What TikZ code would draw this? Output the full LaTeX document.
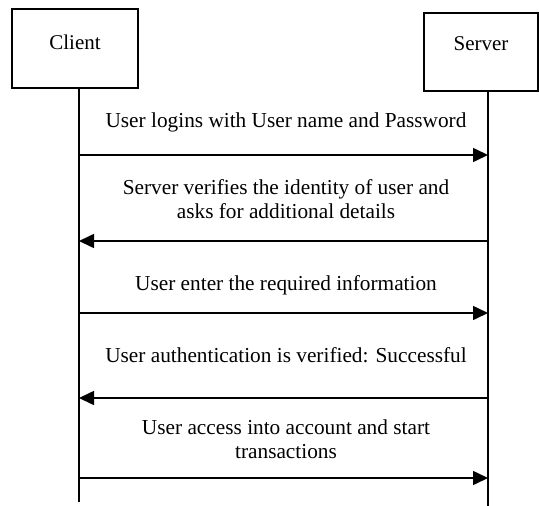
\documentclass[tikz,border=0pt]{standalone}
\usepackage{fontspec}
\setmainfont{Liberation Serif}
\usetikzlibrary{arrows.meta}
\begin{document}
\begin{tikzpicture}[x=1pt,y=-1pt,
  line width=1.6pt,
  actor/.style={draw, line width=1.6pt, inner sep=0pt,
    font=\fontsize{21}{24}\selectfont, text height=14pt},
  msg/.style={line width=1.6pt, -{Triangle[length=15pt,width=14pt]}},
  lbl/.style={font=\fontsize{21.3}{23.5}\selectfont, align=center, anchor=base, inner sep=0pt}
]
\useasboundingbox (0,0) rectangle (539,506);

% the two participants
\node[actor, minimum width=126pt, minimum height=79pt, text depth=13pt] (client) at (75,48.5) {Client};
\node[actor, minimum width=114pt, minimum height=78pt, text depth=18pt] (server) at (481,52) {Server};

% lifelines
\coordinate (cTop) at (79,88);
\coordinate (cEnd) at (79,502);
\coordinate (sTop) at (488,91);
\coordinate (sEnd) at (488,506);
\draw (cTop) -- (cEnd);
\draw (sTop) -- (sEnd);

% message anchors on the lifelines
\coordinate (c1) at (79,155);  \coordinate (s1) at (488,155);
\coordinate (c2) at (79,241);  \coordinate (s2) at (488,241);
\coordinate (c3) at (79,313);  \coordinate (s3) at (488,313);
\coordinate (c4) at (79,398);  \coordinate (s4) at (488,398);
\coordinate (c5) at (79,478);  \coordinate (s5) at (488,478);

% messages
\draw[msg] (c1) -- (s1);
\draw[msg] (s2) -- (c2);
\draw[msg] (c3) -- (s3);
\draw[msg] (s4) -- (c4);
\draw[msg] (c5) -- (s5);

% message texts (multi-line texts sit on the baseline of their last line)
\node[lbl] (m1) at (286,127) {User logins with User name and Password};
\node[lbl] (m2) at (286,218) {Server verifies the identity of user and\\asks for additional details};
\node[lbl] (m3) at (286,290) {User enter the required information};
\node[lbl] (m4) at (286,362) {User authentication is verified: Successful};
\node[lbl] (m5) at (286,458) {User access into account and start\\transactions};
\end{tikzpicture}
\end{document}
